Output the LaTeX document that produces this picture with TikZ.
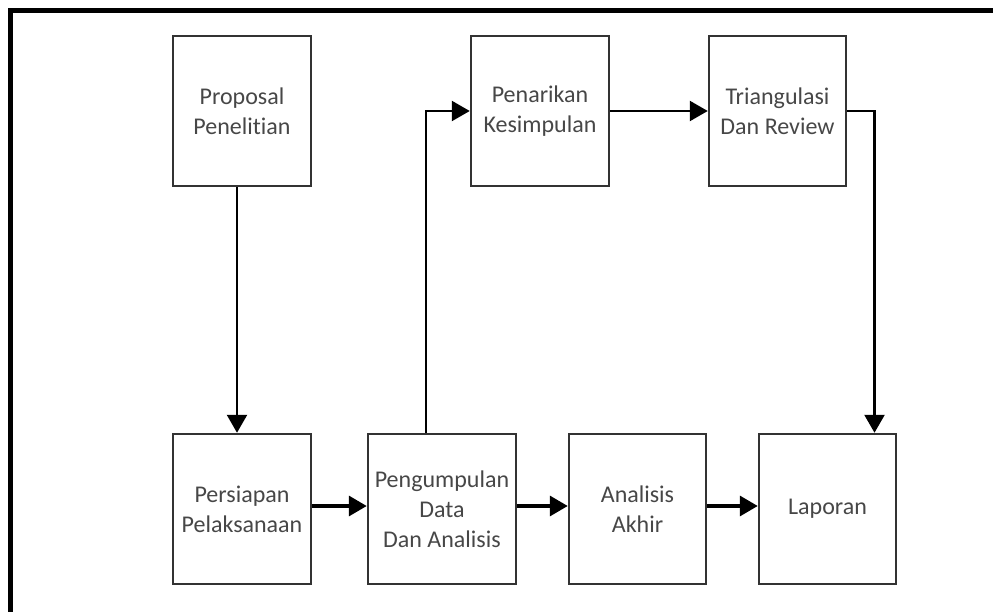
\documentclass[tikz,border=0pt]{standalone}
\usepackage{fontspec}
\setmainfont[Ligatures=NoCommon]{Carlito}
\usetikzlibrary{arrows.meta,positioning,calc}

\begin{document}
\begin{tikzpicture}[
    x=1pt, y=-1pt,
    font=\fontsize{24}{30}\selectfont,
    box/.style={draw=black!80, line width=2.5pt, minimum width=138pt, minimum height=150pt,
                align=center, text=black!72, inner sep=2pt},
    flow/.style={-{Triangle[length=18pt, width=20pt]}, line width=2.5pt},
    bigflow/.style={flow, line width=3.5pt},
]
\useasboundingbox (0,0) rectangle (993,612);

% outer frame (cut off at the right and bottom)
\draw[line width=5pt] (993,10.5) -| (10.5,612);

% =====================  TOP ROW  =====================
\node[box]                        (proposal)    at (242,111)   {Proposal\\Penelitian};
\node[box]                        (penarikan)   at (540,111)   {Penarikan\\Kesimpulan};
\node[box, minimum width=137pt]   (triangulasi) at (777.5,111) {Triangulasi\\Dan Review};

% =====================  BOTTOM ROW  =====================
\node[box]                        (persiapan)   at (242,509)   {Persiapan\\Pelaksanaan};
\node[box, minimum width=148pt]   (pengumpulan) at (442,509)   {Pengumpulan\\Data\\Dan Analisis};
\node[box, minimum width=137pt]   (analisis)    at (637.5,509) {Analisis\\Akhir};
\node[box, minimum width=137pt]   (laporan)     at (827.5,509) {Laporan};

% connectors
\coordinate (drop) at ([xshift=-5pt]proposal.south);
\draw[flow] (drop) -- (drop |- persiapan.north);

\draw[bigflow] ([yshift=3pt]persiapan.east)   -- ([yshift=3pt]pengumpulan.west);
\draw[bigflow] ([yshift=3pt]pengumpulan.east) -- ([yshift=3pt]analisis.west);
\draw[bigflow] ([yshift=3pt]analisis.east)    -- ([yshift=3pt]laporan.west);

\draw[flow] ([xshift=-16pt]pengumpulan.north) |- (penarikan.west);
\draw[flow] (penarikan) -- (triangulasi);
\draw[flow] (triangulasi.east) -| ([xshift=47pt]laporan.north);

\end{tikzpicture}
\end{document}
